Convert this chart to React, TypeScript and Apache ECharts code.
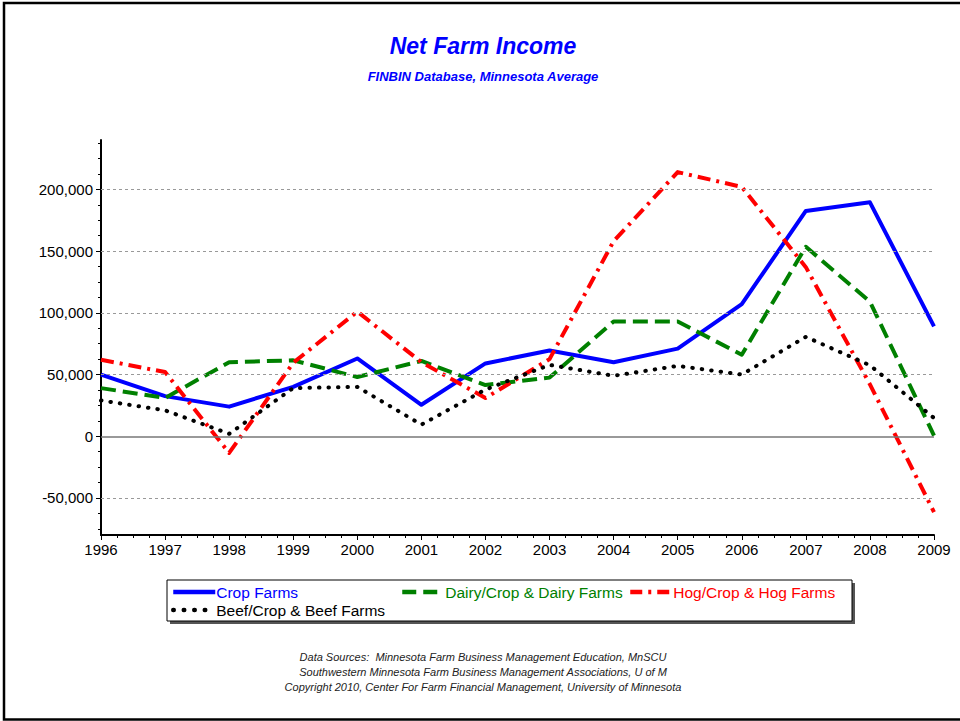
import React, { useEffect, useRef } from "react";
import * as echarts from "echarts";

const years = [1996, 1997, 1998, 1999, 2000, 2001, 2002, 2003, 2004, 2005, 2006, 2007, 2008, 2009];
const cropFarms = [50000, 32500, 24000, 40000, 63000, 25500, 59000, 69500, 60000, 71000, 107000, 182500, 189500, 89000];
const dairyFarms = [39000, 31000, 60000, 61500, 48000, 61000, 41500, 47500, 93000, 93000, 66000, 153500, 109000, 500];
const hogFarms = [62000, 52000, -13500, 59500, 101000, 60000, 31000, 62500, 158000, 214000, 202000, 137000, 42000, -61500];
const beefFarms = [29000, 21000, 2000, 39000, 40000, 9400, 37800, 57800, 49000, 57000, 50000, 80500, 57500, 14800];
const yTicks = [-50000, 0, 50000, 100000, 150000, 200000];
const Y_MIN = -80000;
const Y_MAX = 240000;
const Y_MINOR_STEP = 12500;
const footerLines = [
  "Data Sources:  Minnesota Farm Business Management Education, MnSCU",
  "Southwestern Minnesota Farm Business Management Associations, U of M",
  "Copyright 2010, Center For Farm Financial Management, University of Minnesota",
];

const FONT = "'Liberation Sans', Arial, Helvetica, sans-serif";

const pairs = (vals: number[]) => years.map((y, i) => [y, vals[i]]);

export default function App() {
  const ref = useRef<HTMLDivElement>(null);
  useEffect(() => {
    if (!ref.current) return;
    const chart = echarts.init(ref.current, null, { renderer: "svg" });
    const minor: number[] = [];
    for (let v = -75000; v < Y_MAX; v += Y_MINOR_STEP) {
      if (!yTicks.includes(v)) minor.push(v);
    }
    const seriesDefs = [
      { name: "Crop Farms", data: cropFarms, color: "#0000ff", type: "solid" as any, cap: "butt", legendType: "solid" as any },
      { name: "Dairy/Crop & Dairy Farms", data: dairyFarms, color: "#008000", type: [15, 7], cap: "butt", legendType: [14, 7] },
      { name: "Hog/Crop & Hog Farms", data: hogFarms, color: "#ff0000", type: [13, 6, 3, 6], cap: "butt", legendType: [12, 6, 3, 6] },
      { name: "Beef/Crop & Beef Farms", data: beefFarms, color: "#000000", type: [0.5, 9], cap: "round", legendType: [0.5, 10] },
    ];
    const axisCommon = {
      type: "value",
      min: Y_MIN,
      max: Y_MAX,
      position: "left",
      splitLine: { show: false },
    };
    const legendPos = [
      { left: 171, top: 584, color: "#0000ff" },
      { left: 400, top: 584, color: "#008000" },
      { left: 628, top: 584, color: "#ff0000" },
      { left: 171, top: 602, color: "#000000" },
    ];
    chart.setOption({
      animation: false,
      backgroundColor: "#ffffff",
      grid: { left: 101, right: 26, top: 140, bottom: 186, containLabel: false },
      xAxis: {
        type: "value",
        min: years[0],
        max: years[years.length - 1],
        interval: 1,
        axisLine: { onZero: false, lineStyle: { color: "#000", width: 2 } },
        axisTick: { show: true, length: 5, lineStyle: { color: "#000", width: 1 } },
        minorTick: { show: true, splitNumber: 4, length: 3, lineStyle: { color: "#000", width: 1 } },
        axisLabel: {
          formatter: (v: number) => String(v),
          color: "#000",
          fontFamily: FONT,
          fontSize: 15,
          margin: 7,
        },
        splitLine: { show: false },
        minorSplitLine: { show: false },
      },
      yAxis: [
        {
          ...axisCommon,
          axisLine: { show: true, onZero: false, lineStyle: { color: "#000", width: 2 } },
          axisTick: { show: true, length: 5, customValues: yTicks, lineStyle: { color: "#000", width: 1 } },
          axisLabel: {
            customValues: yTicks,
            formatter: (v: number) => v.toLocaleString("en-US"),
            color: "#000",
            fontFamily: FONT,
            fontSize: 15,
            margin: 8,
          },
        },
        {
          ...axisCommon,
          axisLine: { show: false, onZero: false },
          axisTick: { show: true, length: 3, customValues: minor, lineStyle: { color: "#000", width: 1 } },
          axisLabel: { show: false },
        },
      ],
      legend: seriesDefs.map((s, i) => ({
        data: [s.name],
        left: legendPos[i].left,
        top: legendPos[i].top,
        padding: 0,
        itemWidth: 42,
        itemHeight: 14,
        selectedMode: false,
        itemStyle: { opacity: 0, borderWidth: 0 },
        lineStyle: { width: 4.5, color: s.color, type: s.legendType, cap: s.cap },
        textStyle: { color: legendPos[i].color, fontFamily: FONT, fontSize: 15.5, padding: [0, 0, 0, -4] },
      })),
      graphic: [
        {
          type: "rect",
          shape: { x: 4, y: 3, width: 1000, height: 716.5 },
          style: { fill: "none", stroke: "#000", lineWidth: 2.5 },
          z: 0,
          silent: true,
        },
        {
          type: "rect",
          shape: { x: 170, y: 583, width: 685, height: 41 },
          style: { fill: "#555", stroke: "none" },
          z: 0,
          silent: true,
        },
        {
          type: "rect",
          shape: { x: 167, y: 580, width: 685, height: 41 },
          style: { fill: "#fff", stroke: "#000", lineWidth: 1 },
          z: 1,
          silent: true,
        },
        {
          type: "text",
          x: 483,
          y: 46,
          style: {
            text: "Net Farm Income",
            fill: "#0000ff",
            font: `italic bold 23px ${FONT}`,
            textAlign: "center",
            textVerticalAlign: "middle",
          },
        },
        {
          type: "text",
          x: 483,
          y: 76,
          style: {
            text: "FINBIN Database, Minnesota Average",
            fill: "#0000ff",
            font: `italic bold 13px ${FONT}`,
            textAlign: "center",
            textVerticalAlign: "middle",
          },
        },
        ...footerLines.map((t, i) => ({
          type: "text",
          x: 483,
          y: 657 + i * 15,
          style: {
            text: t,
            fill: "#222",
            font: `italic 11px ${FONT}`,
            textAlign: "center",
            textVerticalAlign: "middle",
          },
        })),
      ],
      series: [
        {
          type: "line",
          name: "__grid",
          data: [],
          silent: true,
          z: 1,
          markLine: {
            silent: true,
            symbol: ["none", "none"],
            label: { show: false },
            animation: false,
            data: yTicks.map((v) => ({
              yAxis: v,
              lineStyle:
                v === 0
                  ? { color: "#777", width: 1.5, type: "solid" }
                  : { color: "#999", width: 1, type: [3, 3] },
            })),
          },
        },
        ...seriesDefs.map((s, i) => ({
          type: "line",
          name: s.name,
          data: pairs(s.data),
          symbol: "none",
          z: 2 + i,
          color: s.color,
          lineStyle: { color: s.color, width: 4, type: s.type, cap: s.cap, join: "round" },
        })),
      ],
    });
    return () => chart.dispose();
  }, []);
  return (
    <div
      ref={ref}
      style={{ position: "fixed", left: 0, top: 0, width: 960, height: 721, background: "#fff" }}
    />
  );
}
